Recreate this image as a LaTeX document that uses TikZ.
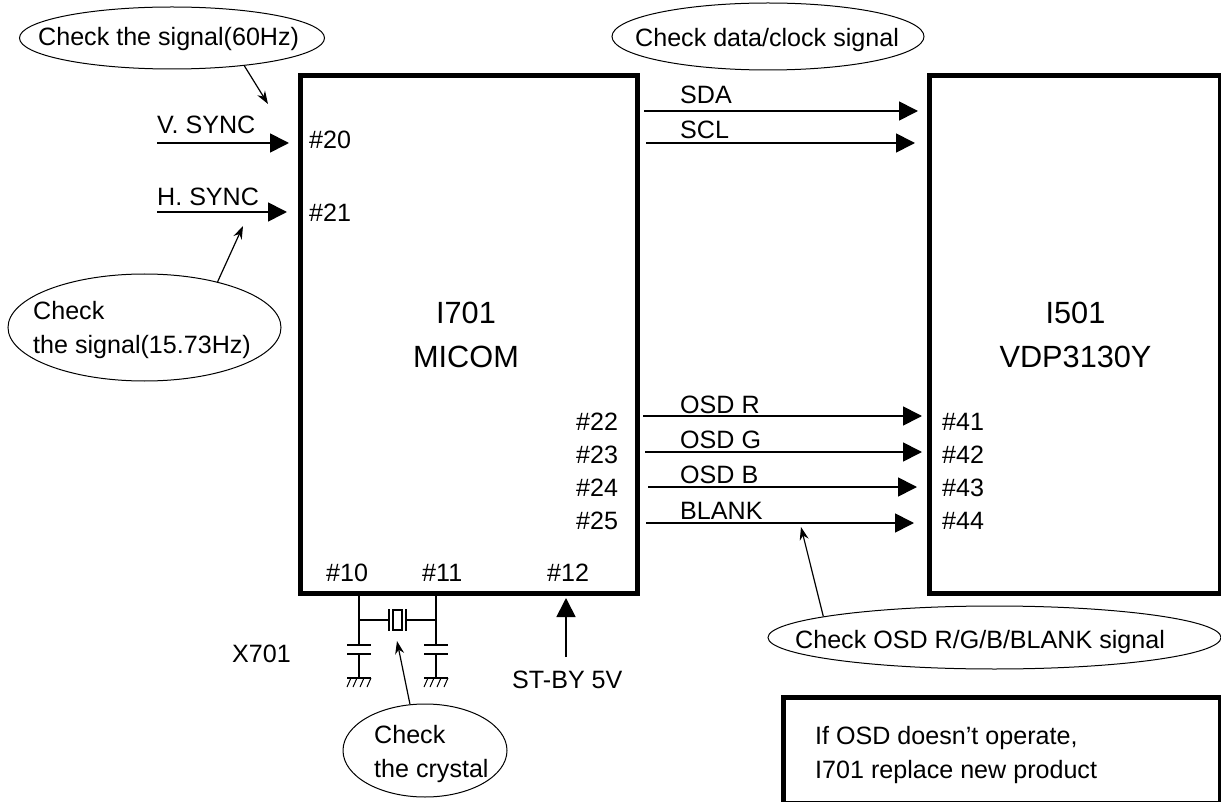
\documentclass[tikz,border=0pt]{standalone}
\usepackage{fontspec}
\setmainfont{Liberation Sans}
\usetikzlibrary{shapes.geometric,arrows.meta}
\tikzset{
 box/.style={draw,line width=5pt,inner sep=0pt},
 bub/.style={draw,ellipse,line width=1pt,inner sep=0pt},
 lab/.style={inner sep=0pt,font=\fontsize{25.1}{34}\selectfont,anchor=base west,align=left},
 big/.style={inner sep=0pt,font=\fontsize{30.7}{44}\selectfont,align=center,anchor=base},
 sig/.style={line width=1.7pt,-{Triangle[length=19pt,width=19pt]}},
 call/.style={line width=1.2pt,-{Stealth[length=13pt,width=9pt]}},
 wire/.style={line width=1.2pt}
}
\begin{document}
\begin{tikzpicture}[x=1pt,y=-1pt]
\useasboundingbox (0,0) rectangle (1221,802);
\node[box,minimum width=337.5pt,minimum height=517.5pt,anchor=center] (micom) at (468.75,334.25) {};
\node[big] (mt) at (466,367) {I701\\MICOM};
\node[box,minimum width=291pt,minimum height=517.5pt,anchor=center] (vdp) at (1075,334.25) {};
\node[big] (vt) at (1075.5,367) {I501\\VDP3130Y};
\node[box,minimum width=436.5pt,minimum height=105.5pt,anchor=center] (note) at (1001.75,750.25) {};
\node[lab] (nt) at (815,778) {If OSD doesn’t operate,\\I701 replace new product};
% left signals
\foreach \n/\t/\y/\pn/\xe/\ly/\py in {a/V. SYNC/143/20/289/134/149,b/H. SYNC/212/21/287/206/222}{
 \coordinate (s\n) at (157,\y);
 \coordinate (e\n) at (\xe,\y);
 \draw[sig] (s\n) -- (e\n);
 \node[lab] (l\n) at (157,\ly) {\t};
 \node[lab] (p\n) at (309,\py) {\#\pn};
}
% right top
\foreach \n/\t/\ys/\xs/\xe/\ly in {c/SDA/111/644/918/104,d/SCL/143/646/915/139}{
 \coordinate (s\n) at (\xs,\ys);
 \coordinate (e\n) at (\xe,\ys);
 \draw[sig] (s\n) -- (e\n);
 \node[lab] (l\n) at (680,\ly) {\t};
}
% OSD
\foreach \n/\t/\y/\xs/\xe/\pa/\pb/\ly/\py in {e/OSD R/416/643/922/22/41/413/430,f/OSD G/452/645/922/23/42/448/463,g/OSD B/487/648/917/24/43/483/496,h/BLANK/523/646/914/25/44/519/529}{
 \coordinate (s\n) at (\xs,\y);
 \coordinate (e\n) at (\xe,\y);
 \draw[sig] (s\n) -- (e\n);
 \node[lab] (l\n) at (680,\ly) {\t};
 \node[lab] (q\n) at (576,\py) {\#\pa};
 \node[lab] (r\n) at (942,\py) {\#\pb};
}
\node[lab] (p10) at (326,581) {\#10};
\node[lab] (p11) at (422,581) {\#11};
\node[lab] (p12) at (547,581) {\#12};
% standby
\coordinate (sb1) at (566,657);
\coordinate (sb2) at (566,598);
\draw[sig] (sb1) -- (sb2);
\node[lab] (sb) at (512,688) {ST-BY 5V};
\node[lab] (x) at (232,662) {X701};
% crystal
\coordinate (c1t) at (359,594); \coordinate (c1j) at (359,620);
\coordinate (c1a) at (359,645); \coordinate (c1b) at (359,654); \coordinate (c1g) at (359,678);
\coordinate (c2t) at (436,594); \coordinate (c2j) at (436,620);
\coordinate (c2a) at (436,645); \coordinate (c2b) at (436,654); \coordinate (c2g) at (436,678);
\coordinate (xa) at (389,620); \coordinate (xb) at (406,620);
\draw[wire] (c1t) -- (c1a) (c1b) -- (c1g) (c2t) -- (c2a) (c2b) -- (c2g) (c1j) -- (xa) (xb) -- (c2j);
\foreach \c in {c1,c2}{
 \draw[wire] ([xshift=-12pt]\c a) -- ([xshift=12pt]\c a);
 \draw[wire] ([xshift=-12pt]\c b) -- ([xshift=12pt]\c b);
 \draw[wire] ([xshift=-12pt]\c g) -- ([xshift=12pt]\c g);
 \foreach \d in {-8,-2,5,12}
  \draw[line width=1pt] ([xshift=\d pt]\c g) -- ([xshift=\d pt-4pt,yshift=-9pt]\c g);
}
\draw[wire] (xa) ++(0,-11) -- ++(0,22);
\draw[wire] (xb) ++(0,-11) -- ++(0,22);
\draw[wire] (393,610) rectangle (402,630);
% bubbles
\node[bub,minimum width=305pt,minimum height=62pt] (b1) at (172,38) {};
\node[lab] (b1t) at (38,46) {Check the signal(60Hz)};
\node[bub,minimum width=312pt,minimum height=67pt] (b2) at (768,36.5) {};
\node[lab] (b2t) at (635,46.5) {Check data/clock signal};
\node[bub,minimum width=273pt,minimum height=107pt] (b3) at (144.5,327.5) {};
\node[lab] (b3t) at (33,353) {Check\\the signal(15.73Hz)};
\node[bub,minimum width=164pt,minimum height=93pt] (b4) at (425,750.5) {};
\node[lab] (b4t) at (374,777) {Check\\the crystal};
\node[bub,minimum width=453pt,minimum height=63pt] (b5) at (994.5,637.5) {};
\node[lab] (b5t) at (795,648) {Check OSD R/G/B/BLANK signal};
% callouts
\coordinate (c1e) at (268,104);
\coordinate (c3e) at (243,226);
\coordinate (c4e) at (397,641);
\coordinate (c5e) at (801,527);
\draw[call] (b1.-21.5) -- (c1e);
\draw[call] (b3.32.7) -- (c3e);
\draw[call] (b4.108.6) -- (c4e);
\draw[call] (b5.173.2) -- (c5e);
\end{tikzpicture}
\end{document}
